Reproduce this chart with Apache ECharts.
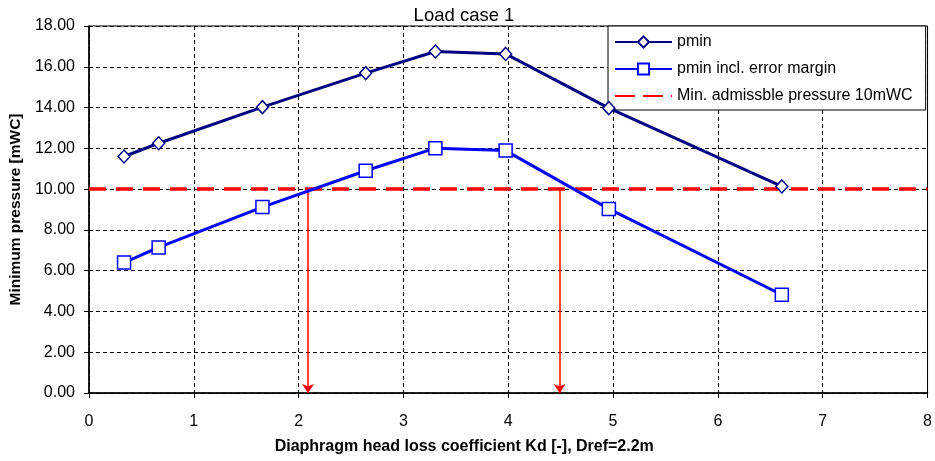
<!DOCTYPE html>
<html>
<head>
<meta charset="utf-8">
<script src="https://cdn.jsdelivr.net/npm/echarts@6/dist/echarts.min.js"></script>
<style>html,body{margin:0;padding:0;background:#fff}#c{width:935px;height:461px}</style>
</head>
<body>
<div id="c"></div>
<script>
const kd = [0.335, 0.665, 1.655, 2.64, 3.305, 3.975, 4.96, 6.61];
const pmin = [11.60, 12.25, 14.02, 15.69, 16.75, 16.63, 13.97, 10.13];
const pminErr = [6.40, 7.14, 9.12, 10.90, 12.01, 11.89, 9.03, 4.82];
const limitX = [0, 8];
const limitY = [10, 10];
const arrowX = [2.09, 4.49];
const arrowTop = 10;
const arrowBottom = 0;
const yTicks = [0, 2, 4, 6, 8, 10, 12, 14, 16, 18];

const font = 'Liberation Sans, Arial, sans-serif';
const chart = echarts.init(document.getElementById('c'));
chart.setOption({
  animation: false,
  backgroundColor: '#fff',
  textStyle: { fontFamily: font },
  title: {
    text: 'Load case 1', left: 459, top: 1, textAlign: 'center',
    textStyle: { fontFamily: font, fontSize: 18.5, fontWeight: 'normal', color: '#000' }
  },
  grid: {
    left: 87, right: 7, top: 26, bottom: 68, show: true,
    borderColor: '#000', borderWidth: 1, backgroundColor: 'transparent'
  },
  legend: {
    left: 608, top: 26, orient: 'vertical',
    backgroundColor: '#fff', borderColor: '#000', borderWidth: 1, borderRadius: 0,
    padding: [8, 13, 6, 6], itemGap: 11, itemWidth: 57, itemHeight: 14, itemTextGap: 3,
    textStyle: { fontFamily: font, fontSize: 16, color: '#000' },
    data: [
      'pmin',
      'pmin incl. error margin',
      { name: 'Min. admissble pressure 10mWC', itemStyle: { opacity: 0 }, lineStyle: { type: [20, 8] } }
    ]
  },
  xAxis: {
    type: 'value', min: 0, max: 8, interval: 1,
    name: 'Diaphragm head loss coefficient Kd [-], Dref=2.2m',
    nameLocation: 'middle', nameGap: 46,
    nameTextStyle: { fontFamily: font, fontSize: 16, fontWeight: 'bold', color: '#000', padding: [0, 88, 0, 0] },
    axisLine: { show: true, onZero: false, lineStyle: { color: '#000', width: 1.5 } },
    axisTick: { show: true, length: 5, lineStyle: { color: '#000' } },
    axisLabel: { margin: 21, fontSize: 16, color: '#000', fontFamily: font },
    splitLine: { show: true, lineStyle: { color: '#000', type: [4, 3], width: 1 } }
  },
  yAxis: {
    type: 'value', min: 0, max: 18, interval: 2,
    name: 'Minimum pressure [mWC]',
    nameLocation: 'middle', nameGap: 62, nameRotate: 90,
    nameTextStyle: { fontFamily: font, fontSize: 15.5, fontWeight: 'bold', color: '#000' },
    axisLine: { show: true, lineStyle: { color: '#000', width: 1.5 } },
    axisTick: { show: true, length: 5, lineStyle: { color: '#000' } },
    axisLabel: { margin: 14, fontSize: 16, color: '#000', fontFamily: font,
      formatter: v => yTicks.includes(v) ? v.toFixed(2) : '' },
    splitLine: { show: true, lineStyle: { color: '#000', type: [4, 3], width: 1 } }
  },
  series: [
    {
      name: 'Min. admissble pressure 10mWC', type: 'line',
      data: limitX.map((x, i) => [x, limitY[i]]),
      symbol: 'none', z: 3,
      lineStyle: { color: '#ff0000', width: 3.5, type: [17, 10] },
      itemStyle: { color: '#ff0000' }
    },
    {
      name: 'pmin', type: 'line',
      data: kd.map((x, i) => [x, pmin[i]]),
      symbol: 'diamond', symbolSize: [12, 13], z: 5,
      lineStyle: { color: '#000080', width: 3 },
      itemStyle: { color: '#fff', borderColor: '#000080', borderWidth: 1.5 }
    },
    {
      name: 'pmin incl. error margin', type: 'line',
      data: kd.map((x, i) => [x, pminErr[i]]),
      symbol: 'rect', symbolSize: 13, z: 5,
      lineStyle: { color: '#0000ff', width: 3 },
      itemStyle: { color: '#fff', borderColor: '#0000ff', borderWidth: 1.5 }
    },
    {
      type: 'lines', coordinateSystem: 'cartesian2d', z: 4,
      symbol: ['none', 'arrow'], symbolSize: [0, 9],
      lineStyle: { color: '#ff0000', width: 1.5, opacity: 1 },
      data: arrowX.map(x => ({ coords: [[x, arrowTop], [x, arrowBottom]] }))
    }
  ]
});
</script>
</body>
</html>
